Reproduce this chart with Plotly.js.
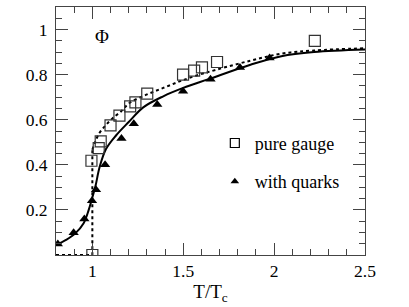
<!DOCTYPE html>
<html>
<head>
<meta charset="utf-8">
<script src="https://cdn.plot.ly/plotly-3.0.1.min.js"></script>
<style>html,body{margin:0;padding:0;background:#fff;}#chart{width:409px;height:307px;}</style>
</head>
<body>
<div id="chart"></div>
<script>
// pure gauge data (open squares)
var gaugeT = [1.0, 0.995, 1.035, 1.046, 1.10, 1.149, 1.208, 1.237, 1.302, 1.499, 1.56, 1.603, 1.686, 2.224];
var gaugePhi = [0.0, 0.418, 0.474, 0.504, 0.575, 0.618, 0.659, 0.677, 0.716, 0.80, 0.818, 0.832, 0.856, 0.95];
// with quarks data (filled triangles)
var quarkT = [0.81, 0.897, 0.956, 0.998, 1.02, 1.07, 1.16, 1.228, 1.357, 1.499, 1.65, 1.812, 1.975];
var quarkPhi = [0.049, 0.099, 0.16, 0.241, 0.289, 0.40, 0.517, 0.582, 0.667, 0.726, 0.78, 0.832, 0.874];
// solid curve (with quarks)
var solidT = [0.8, 0.855, 0.906, 0.952, 0.98, 1.0, 1.017, 1.04, 1.075, 1.13, 1.2, 1.28, 1.39, 1.5, 1.64, 1.87, 2.04, 2.22, 2.5];
var solidPhi = [0.044, 0.067, 0.096, 0.141, 0.2, 0.255, 0.305, 0.39, 0.47, 0.53, 0.59, 0.655, 0.704, 0.741, 0.78, 0.844, 0.882, 0.90, 0.911];
// dotted curve (pure gauge): step part and curve part
var stepT = [0.8, 1.0, 1.0];
var stepPhi = [0.0, 0.0, 0.467];
var dotT = [1.0, 1.017, 1.039, 1.076, 1.112, 1.158, 1.204, 1.297, 1.39, 1.48, 1.573, 1.683, 1.87, 2.04, 2.22, 2.5];
var dotPhi = [0.467, 0.504, 0.541, 0.578, 0.607, 0.637, 0.674, 0.711, 0.741, 0.77, 0.796, 0.822, 0.862, 0.893, 0.907, 0.917];
// tick labels
var yTickVals = [0.2, 0.4, 0.6, 0.8, 1];
var yTickText = ['0.2', '0.4', '0.6', '0.8', '1'];
var xTickVals = [1, 1.5, 2, 2.5];
var xTickText = ['1', '1.5', '2', '2.5'];

var FONT = 'Liberation Serif';

var traces = [
  {x: stepT, y: stepPhi, mode: 'lines', line: {color: '#000', width: 2, dash: 'dot'}, showlegend: false, hoverinfo: 'skip'},
  {x: dotT, y: dotPhi, mode: 'lines', line: {color: '#000', width: 2, dash: 'dot', shape: 'spline', smoothing: 1}, showlegend: false, hoverinfo: 'skip'},
  {x: solidT, y: solidPhi, mode: 'lines', line: {color: '#000', width: 2, shape: 'spline', smoothing: 1}, showlegend: false, hoverinfo: 'skip'},
  {x: gaugeT, y: gaugePhi, mode: 'markers', marker: {symbol: 'square-open', size: 11, color: '#333', line: {width: 1.2, color: '#333'}}, showlegend: false},
  {x: quarkT, y: quarkPhi, mode: 'markers', marker: {symbol: 'triangle-up', size: 9, color: '#000'}, showlegend: false},
  {x: [null], y: [null], mode: 'markers', name: 'pure gauge', legendgroup: 'a', marker: {symbol: 'square-open', size: 9, color: '#000', line: {width: 1.2, color: '#000'}}},
  {x: [null], y: [null], mode: 'markers', name: 'with quarks', legendgroup: 'b', marker: {symbol: 'triangle-up', size: 7.5, color: '#000'}}
];

function axisCommon() {
  return {
    showline: true, linecolor: '#444', linewidth: 1, mirror: 'allticks',
    ticks: 'inside', ticklen: 12, tickwidth: 1, tickcolor: '#444',
    showgrid: false, zeroline: false,
    tickfont: {family: FONT, size: 17.5, color: '#000'}
  };
}

var layout = {
  width: 409, height: 307,
  margin: {l: 56, r: 44, t: 7, b: 52},
  paper_bgcolor: '#fff', plot_bgcolor: '#fff',
  font: {family: FONT, size: 17, color: '#000'},
  xaxis: Object.assign(axisCommon(), {
    range: [0.8, 2.5], tickmode: 'array', tickvals: xTickVals, ticktext: xTickText,
    minor: {dtick: 0.1, tick0: 0.8, ticks: 'inside', ticklen: 6, tickwidth: 1, tickcolor: '#444', showgrid: false},
    title: {text: 'T/T<sub>c</sub>', font: {family: FONT, size: 19, color: '#000'}, standoff: 1}
  }),
  yaxis: Object.assign(axisCommon(), {
    range: [0, 1.1], tickmode: 'array', tickvals: yTickVals, ticktext: yTickText,
    minor: {dtick: 0.05, tick0: 0, ticks: 'inside', ticklen: 6, tickwidth: 1, tickcolor: '#444', showgrid: false},
    ticklabelstandoff: 4
  }),
  showlegend: true,
  legend: {x: 0.514, y: 0.525, xanchor: 'left', yanchor: 'top', bgcolor: 'rgba(0,0,0,0)',
    font: {family: FONT, size: 18, color: '#000'}, traceorder: 'grouped', tracegroupgap: 12, itemsizing: 'trace'},
  annotations: [
    {x: 1.055, y: 0.968, xref: 'x', yref: 'y', text: 'Φ', showarrow: false,
     font: {family: FONT, size: 19, color: '#000'}}
  ]
};

Plotly.newPlot('chart', traces, layout, {displayModeBar: false, staticPlot: true});
</script>
</body>
</html>
